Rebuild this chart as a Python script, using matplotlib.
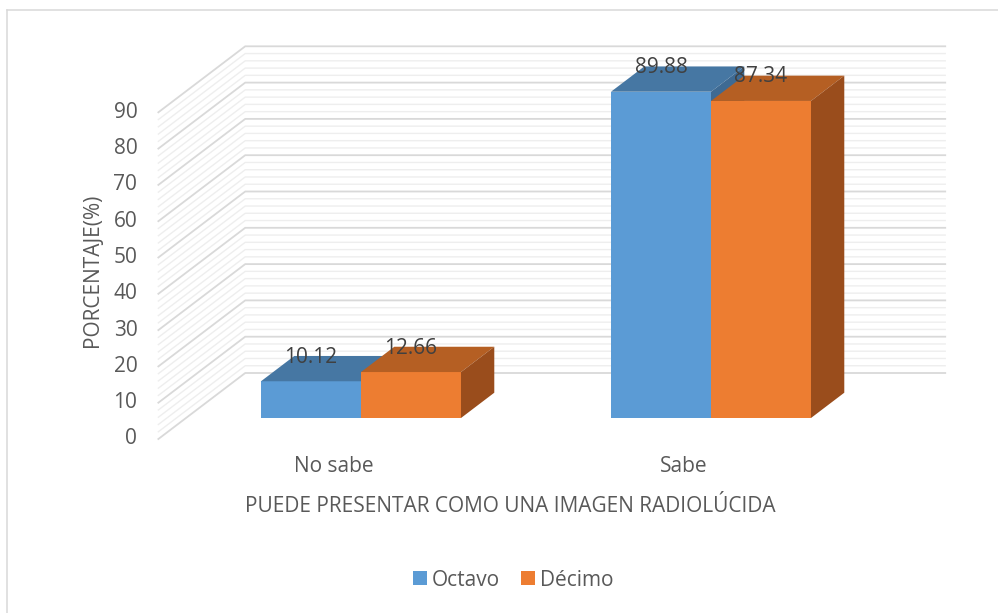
import numpy as np
import matplotlib.pyplot as plt
from matplotlib.patches import Polygon, Patch
from matplotlib.lines import Line2D

categories = ['No sabe', 'Sabe']
series = ['Octavo', 'Décimo']
octavo = [10.12, 89.88]
decimo = [12.66, 87.34]
yticks = [0, 10, 20, 30, 40, 50, 60, 70, 80, 90]
xtitle = 'PUEDE PRESENTAR COMO UNA IMAGEN RADIOLÚCIDA'
ytitle = 'PORCENTAJE(%)'

front_col = ['#5B9BD5', '#ED7D31']
top_col = ['#4677A3', '#B55F23']
side_col = ['#3E6A93', '#9A4D1C']
txt_col = '#595959'

plt.rcParams['font.family'] = ['Open Sans', 'DejaVu Sans']
W, H = 998, 613
fig = plt.figure(figsize=(W/100, H/100), dpi=100)
# axes box = front plane of the bars
ax = fig.add_axes([186/W, (H-418)/H, 700/W, 326.7/H])
ax.set_xlim(-0.5, 1.5)
ax.set_ylim(0, 90)
ax.axis('off')

sx = 700/2.0      # px per category unit
sy = 326.7/90     # px per percent
PT = 0.72         # px -> points

def proj(x, y, t):
	# t = depth in px, measured backwards from the front plane of the bars
	return (x + 1.316*t/sx, y + t/sy)

BACK = 45
FRONT = -21
DEPTH = 25.3

# walls
for v in range(0, 91, 2):
	major = (v % 10 == 0)
	c = '#D9D9D9' if major else '#EEEEEE'
	lw = 1.3 if major else 1.0
	a = proj(-0.5, v, BACK)
	b = proj(1.5, v, BACK)
	f = proj(-0.5, v, FRONT)
	ax.plot([f[0], a[0], b[0]], [f[1], a[1], b[1]], color=c, lw=lw, clip_on=False, zorder=1 if not major else 2)

# bars
w = 0.2857
for i in range(len(categories)):
	for j, vals in enumerate([octavo, decimo]):
		v = vals[i]
		x0 = i - w + j*w
		x1 = x0 + w
		fr = [(x0, 0), (x1, 0), (x1, v), (x0, v)]
		tp = [(x0, v), (x1, v), proj(x1, v, DEPTH), proj(x0, v, DEPTH)]
		sd = [(x1, 0), (x1, v), proj(x1, v, DEPTH), proj(x1, 0, DEPTH)]
		ax.add_patch(Polygon(fr, closed=True, fc=front_col[j], ec='none', clip_on=False, zorder=5))
		ax.add_patch(Polygon(tp, closed=True, fc=top_col[j], ec='none', clip_on=False, zorder=5))
		ax.add_patch(Polygon(sd, closed=True, fc=side_col[j], ec='none', clip_on=False, zorder=5))
		ax.annotate('%.2f' % v, (x0 + w/2, v), xytext=(0, 24*PT), textcoords='offset points',
			ha='center', va='center', fontsize=15, color='#404040', annotation_clip=False, zorder=6)

# y tick labels on the front edge of the side wall
for v in yticks:
	p = proj(-0.5, v, FRONT)
	ax.annotate(str(v), p, xytext=(-21*PT, 0), textcoords='offset points',
		ha='right', va='center', fontsize=15, color=txt_col, annotation_clip=False)

# category labels
for i, c in enumerate(categories):
	p = proj(i, 0, FRONT)
	ax.annotate(c, p, xytext=(0, -28*PT), textcoords='offset points',
		ha='center', va='center', fontsize=15, color=txt_col, annotation_clip=False)

fig.text(510/W, 1 - 506/H, xtitle, ha='center', va='center', fontsize=15, color=txt_col)
fig.text(92/W, 1 - 270/H, ytitle, ha='center', va='center', rotation=90, fontsize=15, color=txt_col)

handles = [Patch(fc=front_col[0], ec='none', label=series[0]),
	Patch(fc=front_col[1], ec='none', label=series[1])]
fig.legend(handles=handles, loc='center', bbox_to_anchor=(513/W, 1 - 580/H), ncol=2, frameon=False,
	fontsize=15, handlelength=0.67, handleheight=0.67, handletextpad=0.25, columnspacing=1.0,
	labelcolor=txt_col)

# chart border
fig.add_artist(Line2D([7/W, 1], [1 - 10/H, 1 - 10/H], transform=fig.transFigure, color='#D9D9D9', lw=1.1))
fig.add_artist(Line2D([7/W, 7/W], [0, 1 - 10/H], transform=fig.transFigure, color='#D9D9D9', lw=1.1))

fig.savefig('out.png', dpi=100)
